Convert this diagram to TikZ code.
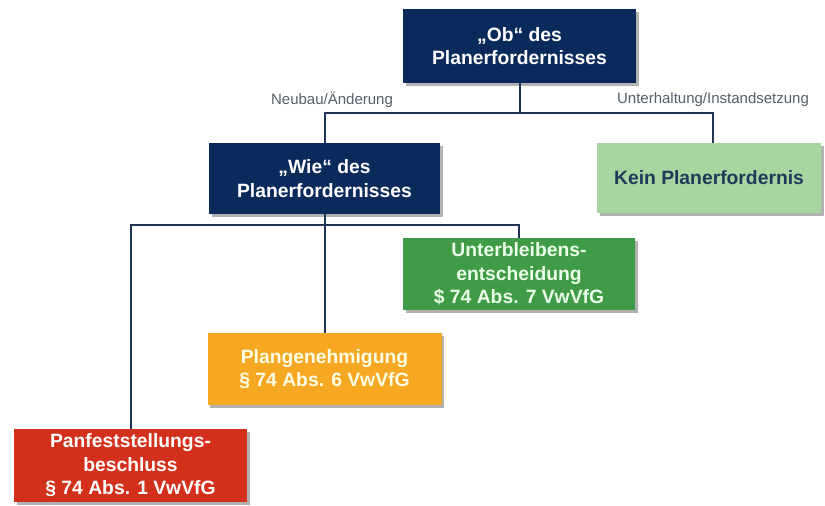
\documentclass[tikz,border=0pt]{standalone}
\usepackage{fontspec}
\setmainfont{Liberation Sans}
\usetikzlibrary{shadows}
\definecolor{navy}{HTML}{0B2A5C}
\definecolor{linec}{HTML}{1F3456}
\definecolor{lgreen}{HTML}{A8D5A0}
\definecolor{dgreen}{HTML}{3F9B45}
\definecolor{orangec}{HTML}{F7A823}
\definecolor{redc}{HTML}{D3301C}
\definecolor{labelc}{HTML}{56606C}
\definecolor{keintext}{HTML}{1E3A5A}
\begin{document}
\begin{tikzpicture}[x=1pt,y=-1pt,
  box/.style={rectangle, align=center, inner sep=0pt,
    font=\fontsize{19.3}{23.5}\selectfont\bfseries,
    drop shadow={shadow xshift=2.5pt, shadow yshift=-2.5pt, fill=black, opacity=0.3}},
  conn/.style={draw=linec, line width=2pt},
  lbl/.style={font=\fontsize{15}{16}\selectfont, text=labelc}]
\useasboundingbox[fill=white] (0,0) rectangle (825,506);

\node[box, fill=navy, text=white, minimum width=233pt, minimum height=74pt] (ob) at (519.5,46) {„Ob“ des\\Planerfordernisses};
\node[box, fill=navy, text=white, minimum width=231pt, minimum height=71pt] (wie) at (324.5,178.5) {„Wie“ des\\Planerfordernisses};
\node[box, fill=lgreen, text=keintext, minimum width=224pt, minimum height=70pt] (kein) at (709,178) {Kein Planerfordernis};
\node[box, fill=dgreen, text=white!92!green, minimum width=232pt, minimum height=72pt] (unt) at (519,274) {Unterbleibens-\\entscheidung\\\$ 74 Abs. 7 VwVfG};
\node[box, fill=orangec, text=white!90!yellow, minimum width=234pt, minimum height=72pt] (plan) at (324.5,369) {Plangenehmigung\\§ 74 Abs. 6 VwVfG};
\node[box, fill=redc, text=white, minimum width=233pt, minimum height=73pt] (pan) at (130.5,465.5) {Panfeststellungs-\\beschluss\\§ 74 Abs. 1 VwVfG};

\node[lbl] (l1) at (332,100) {Neubau/Änderung};
\node[lbl] (l2) at (713,100) {Unterhaltung/Instandsetzung};

\coordinate (j1) at (519.5,113);
\coordinate (k) at (713,143);
\coordinate (j2) at (324.5,225);

\draw[conn] (ob.south) -- (j1);
\draw[conn] (j1) -| (wie.north);
\draw[conn] (j1) -| (k);
\draw[conn] (wie.south) -- (plan.north);
\draw[conn] (j2) -| (pan.north);
\draw[conn] (j2) -| (unt.north);
\end{tikzpicture}
\end{document}
